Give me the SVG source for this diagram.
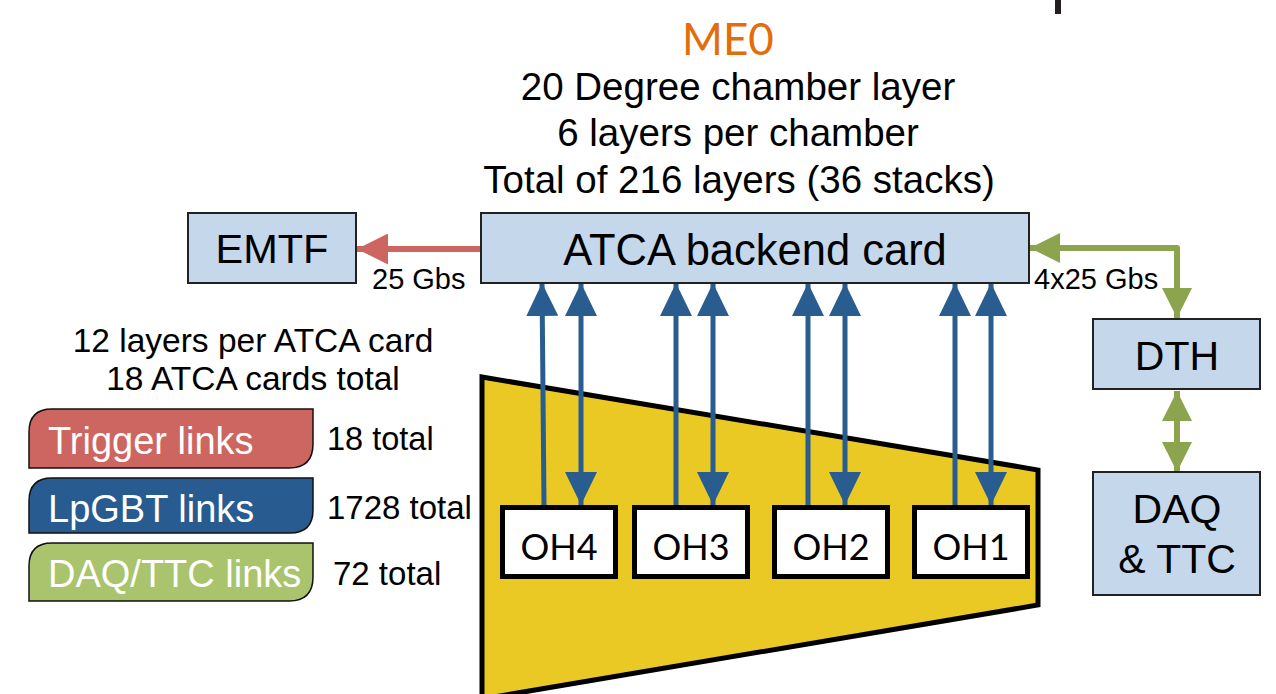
<svg xmlns="http://www.w3.org/2000/svg" width="1276" height="694" viewBox="0 0 1276 694">
<defs>
<style>
.t{font-family:"Liberation Sans",Arial,sans-serif;fill:#000}
.c{font-family:Lato,"Open Sans",sans-serif;fill:#000}
.box{fill:#C5D8EB;stroke:#222;stroke-width:2}
.oh{fill:#fff;stroke:#000;stroke-width:5}
.blue{stroke:#2A5D8F;stroke-width:5;fill:none}
.green{stroke:#8BA44D;stroke-width:6;fill:none;stroke-linejoin:round}
.lg{stroke:#111;stroke-width:1.5}
.wt{font-family:"Liberation Sans",Arial,sans-serif;fill:#fff;font-size:38px}
</style>
<marker id="ab" markerUnits="userSpaceOnUse" markerWidth="33" markerHeight="32" refX="33" refY="16" orient="auto-start-reverse" viewBox="0 0 33 32">
<path d="M0,0 L33,16 L0,32 Z" fill="#2A5D8F"/>
</marker>
<marker id="ag" markerUnits="userSpaceOnUse" markerWidth="30" markerHeight="30" refX="30" refY="15" orient="auto-start-reverse" viewBox="0 0 30 30">
<path d="M0,0 L30,15 L0,30 Z" fill="#8BA44D"/>
</marker>
<marker id="ar" markerUnits="userSpaceOnUse" markerWidth="31" markerHeight="31" refX="31" refY="15.5" orient="auto" viewBox="0 0 31 31">
<path d="M0,0 L31,15.5 L0,31 Z" fill="#CD6660"/>
</marker>
</defs>
<rect width="1276" height="694" fill="#fff"/>
<rect x="1055" y="0" width="6" height="14" fill="#231F20"/>

<g id="chamber">
<polygon points="482,377 1038,470 1038,605 482,699" fill="#EBC925" stroke="#000" stroke-width="5" stroke-linejoin="miter"/>
</g>

<g id="title">
<text class="c" x="728" y="55" font-size="44" text-anchor="middle" style="fill:#E46C0A">ME0</text>
<text class="t" x="738" y="100" font-size="38.5" text-anchor="middle">20 Degree chamber layer</text>
<text class="t" x="738" y="146" font-size="38.5" text-anchor="middle">6 layers per chamber</text>
<text class="t" x="739" y="193" font-size="38.5" text-anchor="middle">Total of 216 layers (36 stacks)</text>
</g>

<g id="connectors">
<line x1="481" y1="249" x2="357" y2="249" stroke="#CD6660" stroke-width="6" marker-end="url(#ar)"/>
<polyline class="green" points="1030,248 1177,248 1177,318" marker-start="url(#ag)" marker-end="url(#ag)"/>
<line class="green" x1="1177" y1="391" x2="1177" y2="472" marker-start="url(#ag)" marker-end="url(#ag)"/>
<line class="blue" x1="544" y1="505" x2="542" y2="283" marker-end="url(#ab)"/>
<line class="blue" x1="581" y1="283" x2="581" y2="505" marker-start="url(#ab)" marker-end="url(#ab)"/>
<line class="blue" x1="676" y1="505" x2="676" y2="283" marker-end="url(#ab)"/>
<line class="blue" x1="713" y1="283" x2="713" y2="505" marker-start="url(#ab)" marker-end="url(#ab)"/>
<line class="blue" x1="808" y1="505" x2="808" y2="283" marker-end="url(#ab)"/>
<line class="blue" x1="845" y1="283" x2="845" y2="505" marker-start="url(#ab)" marker-end="url(#ab)"/>
<line class="blue" x1="955" y1="505" x2="955" y2="283" marker-end="url(#ab)"/>
<line class="blue" x1="991" y1="283" x2="991" y2="505" marker-start="url(#ab)" marker-end="url(#ab)"/>
<text class="t" x="372" y="289" font-size="29">25 Gbs</text>
<text class="t" x="1034" y="289" font-size="29">4x25 Gbs</text>
</g>

<g id="atca">
<rect class="box" x="481" y="213" width="548" height="70"/>
<text class="t" x="755" y="265" font-size="43.5" text-anchor="middle">ATCA backend card</text>
</g>
<g id="emtf">
<rect class="box" x="188" y="213" width="168" height="70"/>
<text class="t" x="272" y="263" font-size="41.5" text-anchor="middle">EMTF</text>
</g>
<g id="dth">
<rect class="box" x="1093" y="319" width="167" height="70"/>
<text class="t" x="1177" y="370" font-size="41" text-anchor="middle">DTH</text>
</g>
<g id="daq">
<rect class="box" x="1093" y="472" width="167" height="123"/>
<text class="t" x="1177" y="523" font-size="41" text-anchor="middle">DAQ</text>
<text class="t" x="1177" y="573" font-size="41" text-anchor="middle">&amp; TTC</text>
</g>

<g id="oh4"><rect class="oh" x="502.5" y="507.5" width="113" height="69"/><text class="c" x="559" y="560" font-size="36" text-anchor="middle">OH4</text></g>
<g id="oh3"><rect class="oh" x="634.5" y="507.5" width="113" height="69"/><text class="c" x="691" y="560" font-size="36" text-anchor="middle">OH3</text></g>
<g id="oh2"><rect class="oh" x="774.5" y="507.5" width="113" height="69"/><text class="c" x="831" y="560" font-size="36" text-anchor="middle">OH2</text></g>
<g id="oh1"><rect class="oh" x="914.5" y="507.5" width="113" height="69"/><text class="c" x="971" y="560" font-size="36" text-anchor="middle">OH1</text></g>

<g id="legend-text">
<text class="t" x="253" y="352" font-size="33.5" text-anchor="middle">12 layers per ATCA card</text>
<text class="t" x="253" y="390" font-size="33.5" text-anchor="middle">18 ATCA cards total</text>
</g>
<g id="trigger-links">
<path class="lg" d="M29,468 L29,432 Q29,409 52,409 L313,409 L313,444 Q313,468 289,468 Z" fill="#CD6660"/>
<text class="wt" x="48" y="454">Trigger links</text>
<text class="t" x="327" y="450" font-size="32.5">18 total</text>
</g>
<g id="lpgbt-links">
<path class="lg" d="M29,533 L29,501 Q29,478 52,478 L313,478 L313,510 Q313,533 290,533 Z" fill="#285B8F"/>
<text class="wt" x="48" y="522">LpGBT links</text>
<text class="t" x="327" y="519" font-size="33">1728 total</text>
</g>
<g id="daqttc-links">
<path class="lg" d="M29,601 L29,566 Q29,543 52,543 L313,543 L313,577 Q313,601 289,601 Z" fill="#A9C46C"/>
<text class="wt" x="48" y="587">DAQ/TTC links</text>
<text class="t" x="333" y="585" font-size="33">72 total</text>
</g>
</svg>
